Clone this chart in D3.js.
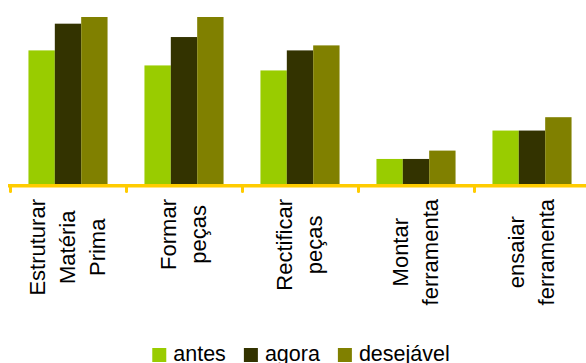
<!DOCTYPE html>
<html>
<head>
<meta charset="utf-8">
<script src="https://cdn.jsdelivr.net/npm/d3@7"></script>
<style>
  html, body { margin: 0; padding: 0; background: #fff; }
  svg { display: block; font-family: "Liberation Sans", Arial, sans-serif; }
</style>
</head>
<body>
<svg id="chart" width="586" height="363"></svg>
<script>
// Activity categories; each entry is the list of lines in its axis label
const categories = [
  ["Estruturar", "Matéria", "Prima"],
  ["Formar", "peças"],
  ["Rectificar", "peças"],
  ["Montar", "ferramenta"],
  ["ensaiar", "ferramenta"]
];
const seriesNames = ["antes", "agora", "desejável"];
const antes     = [80, 71, 68, 15, 32];
const agora     = [96, 88, 80, 15, 32];
const desejavel = [100, 100, 83, 20, 40];
const seriesColors = ["#99cc00", "#333300", "#808000"];

const seriesValues = [antes, agora, desejavel];
const rows = categories.map((lines, i) => ({
  key: lines.join(" "),
  lines,
  values: seriesNames.map((s, j) => ({ series: s, value: seriesValues[j][i], color: seriesColors[j] }))
}));

const svg = d3.select("#chart");
const baseY = 184;

const x0 = d3.scaleBand()
  .domain(rows.map(d => d.key))
  .range([10, 590])
  .paddingInner(0)
  .paddingOuter(0);

const bw = x0.bandwidth();
const barW = bw / (3 + 1.4);
const x1 = d3.scaleBand()
  .domain(seriesNames)
  .range([(bw - 3 * barW) / 2, (bw + 3 * barW) / 2])
  .padding(0);

const y = d3.scaleLinear().domain([0, 100]).range([baseY, 17]);

// Bars
const groups = svg.append("g").selectAll("g")
  .data(rows)
  .join("g")
  .attr("transform", d => `translate(${x0(d.key)},0)`);

groups.selectAll("rect")
  .data(d => d.values)
  .join("rect")
  .attr("x", d => x1(d.series))
  .attr("y", d => y(d.value))
  .attr("width", x1.bandwidth())
  .attr("height", d => baseY - y(d.value))
  .attr("fill", d => d.color);

// Category axis line with tick marks at band boundaries
const axisG = svg.append("g");
axisG.append("line")
  .attr("x1", 8).attr("x2", 586)
  .attr("y1", baseY + 1.7).attr("y2", baseY + 1.7)
  .attr("stroke", "#ffcc00")
  .attr("stroke-width", 3.5);
axisG.selectAll("line.tick")
  .data(rows)
  .join("line")
  .attr("class", "tick")
  .attr("x1", d => x0(d.key) + 0.5).attr("x2", d => x0(d.key) + 0.5)
  .attr("y1", baseY + 2).attr("y2", baseY + 7.5)
  .attr("stroke", "#ffcc00")
  .attr("stroke-width", 3)
  .attr("stroke-linecap", "round");

// Rotated, multi-line category labels
const labelTop = 199;
const lineGap = 30;
rows.forEach(d => {
  const cx = x0(d.key) + bw / 2;
  const g = svg.append("g");
  const texts = d.lines.map((line, i) => {
    const bx = cx + 7 + (i - (d.lines.length - 1) / 2) * lineGap;
    return g.append("text")
      .attr("font-size", 22)
      .attr("fill", "#000")
      .attr("text-anchor", "middle")
      .attr("data-bx", bx)
      .text(line);
  });
  const maxLen = d3.max(texts, t => t.node().getComputedTextLength());
  const cy = labelTop + maxLen / 2;
  texts.forEach(t => {
    const bx = +t.attr("data-bx");
    t.attr("transform", `translate(${bx},${cy}) rotate(-90)`);
  });
});

// Legend
const legend = svg.append("g");
const legendItems = seriesNames.map((s, j) => {
  const g = legend.append("g");
  g.append("rect")
    .attr("x", 0).attr("y", 348)
    .attr("width", 14).attr("height", 14)
    .attr("fill", seriesColors[j]);
  const t = g.append("text")
    .attr("x", 21).attr("y", 361)
    .attr("font-size", 21.5)
    .attr("fill", "#000")
    .text(s);
  return { g, w: 21 + t.node().getComputedTextLength() };
});
const legendGap = 18;
const totalW = d3.sum(legendItems, d => d.w) + legendGap * (legendItems.length - 1);
let lx = 301 - totalW / 2;
legendItems.forEach(it => {
  it.g.attr("transform", `translate(${lx},0)`);
  lx += it.w + legendGap;
});
</script>
</body>
</html>
